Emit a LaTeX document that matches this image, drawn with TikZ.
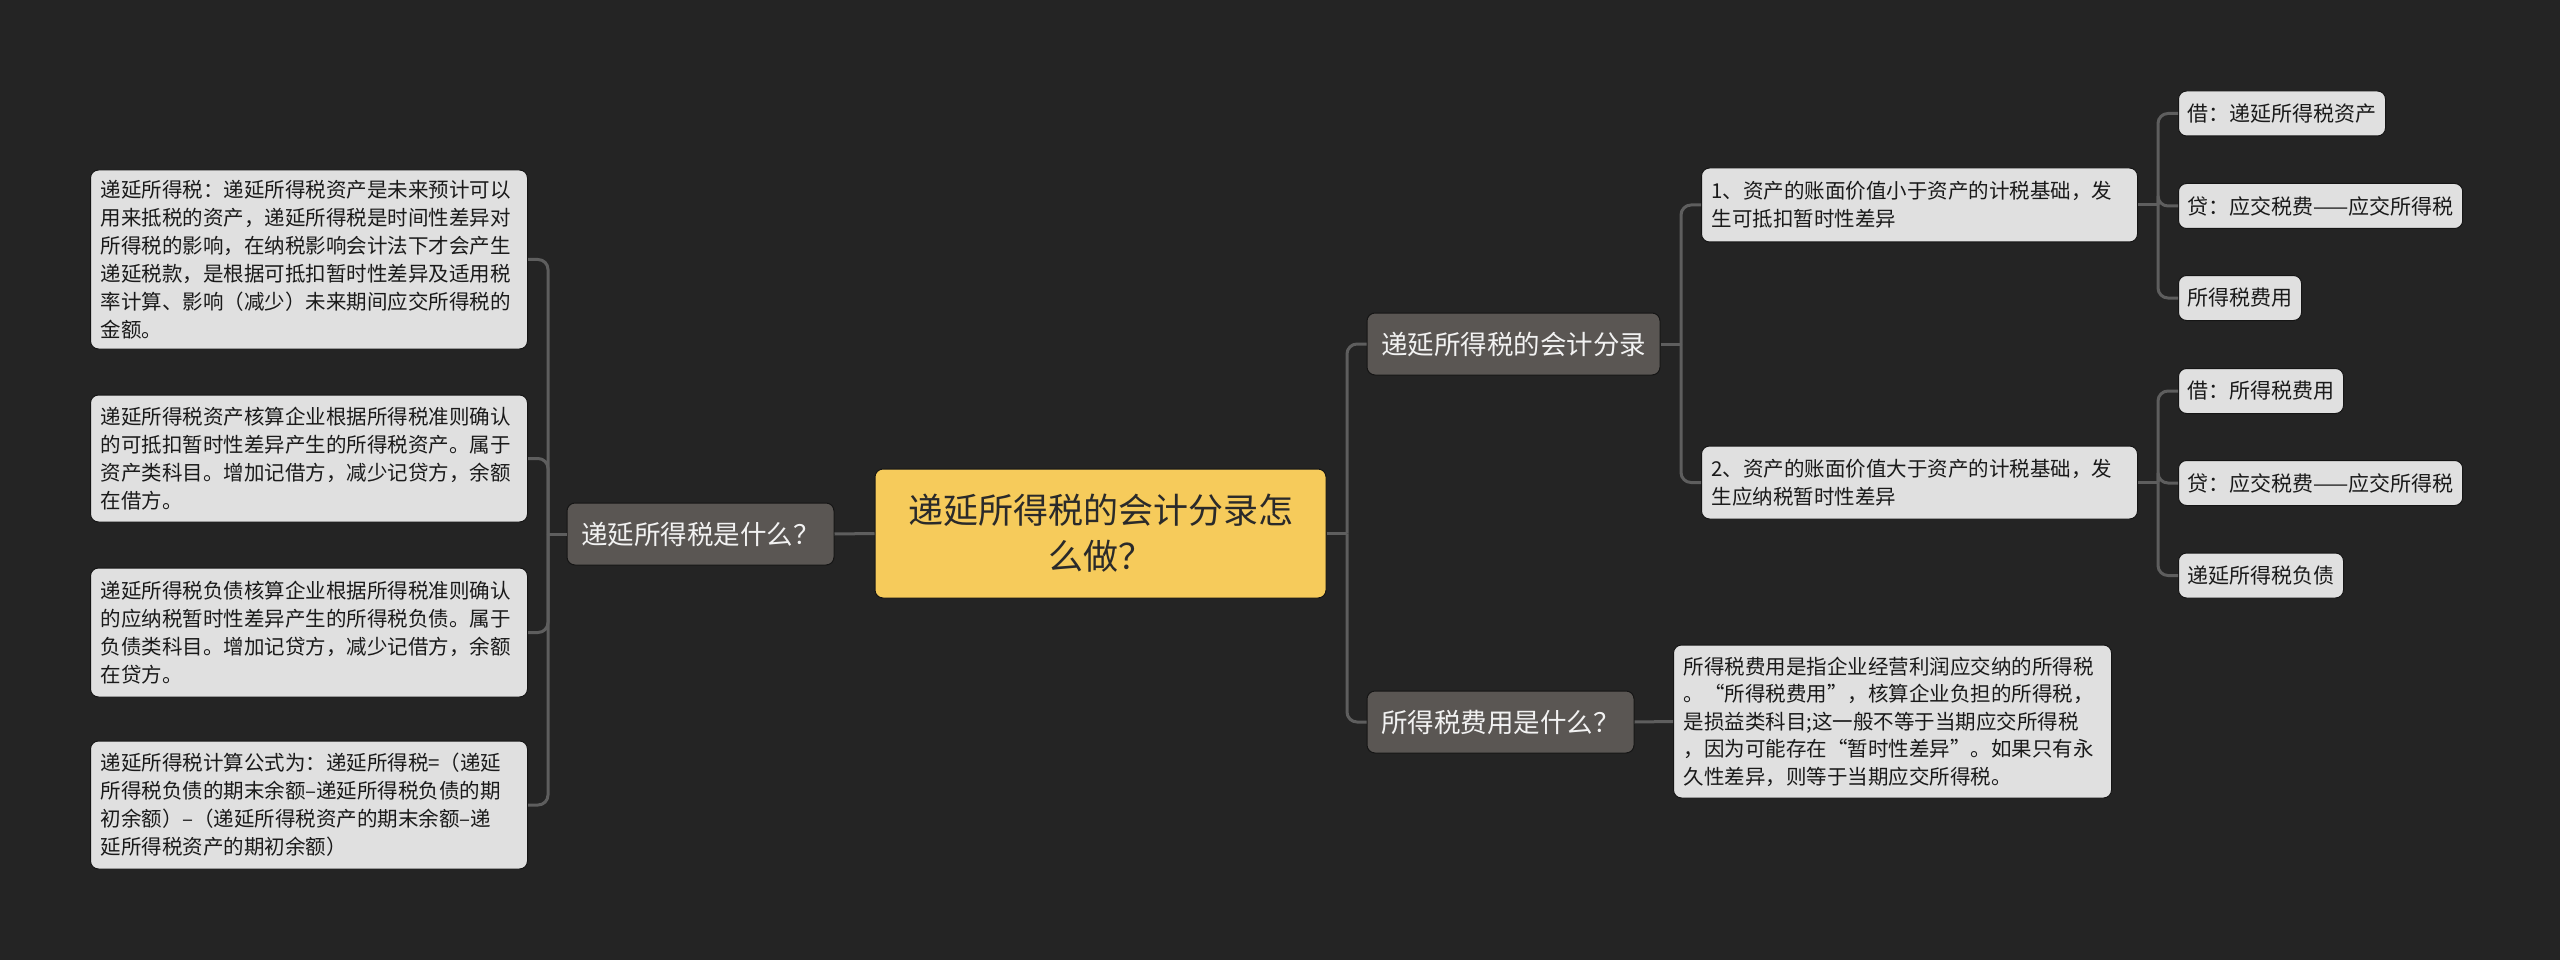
\documentclass[tikz,border=0pt]{standalone}
\usepackage{fontspec}
\setmainfont{Noto Sans CJK SC}
\definecolor{bgc}{HTML}{242424}
\definecolor{rootc}{HTML}{F6CB5B}
\definecolor{roottext}{HTML}{2A2A2A}
\definecolor{topicc}{HTML}{5A5653}
\definecolor{topictext}{HTML}{F2F2F2}
\definecolor{leafc}{HTML}{E0E0E0}
\definecolor{leaftext}{HTML}{1A1A1A}
\definecolor{linec}{HTML}{5E5E5E}
\definecolor{edgec}{HTML}{151515}
\tikzset{
  boxbase/.style={rounded corners=8pt, draw=edgec, line width=1pt},
  rootbox/.style={boxbase, fill=rootc, text=roottext, font=\fontsize{35}{46}\selectfont, align=center, minimum width=451pt, minimum height=129pt},
  topicbox/.style={boxbase, fill=topicc, text=topictext, font=\fontsize{26.5}{32}\selectfont, minimum height=62pt, inner xsep=0pt},
  leafbox/.style={boxbase, fill=leafc, text=leaftext, font=\fontsize{20.5}{28}\selectfont, align=left, inner xsep=10pt},
  smallleaf/.style={boxbase, fill=leafc, text=leaftext, font=\fontsize{21}{28}\selectfont, inner xsep=9pt, minimum height=45pt},
  conn/.style={draw=linec, line width=3pt, rounded corners=10pt},
}
\begin{document}
\begin{tikzpicture}[x=1pt,y=-1pt]
\fill[bgc] (0,0) rectangle (2560,960);
\useasboundingbox (0,0) rectangle (2560,960);

% root
\node[rootbox] (root) at (1100.5,533.5) {递延所得税的会计分录怎\\么做？};

% level 1
\node[topicbox, minimum width=267pt] (what) at (700.5,534) {递延所得税是什么？};
\node[topicbox, minimum width=293pt] (acct) at (1513.5,344) {递延所得税的会计分录};
\node[topicbox, minimum width=267pt] (exp) at (1500.5,722) {所得税费用是什么？};

% left leaves
\node[leafbox, anchor=west, text width=417pt, minimum height=179pt] (l1) at (90,259.5)
{递延所得税：递延所得税资产是未来预计可以\\用来抵税的资产，递延所得税是时间性差异对\\所得税的影响，在纳税影响会计法下才会产生\\递延税款，是根据可抵扣暂时性差异及适用税\\率计算、影响（减少）未来期间应交所得税的\\金额。};
\node[leafbox, anchor=west, text width=417pt, minimum height=127pt] (l2) at (90,458.5)
{递延所得税资产核算企业根据所得税准则确认\\的可抵扣暂时性差异产生的所得税资产。属于\\资产类科目。增加记借方，减少记贷方，余额\\在借方。};
\node[leafbox, anchor=west, text width=417pt, minimum height=129pt] (l3) at (90,632.5)
{递延所得税负债核算企业根据所得税准则确认\\的应纳税暂时性差异产生的所得税负债。属于\\负债类科目。增加记贷方，减少记借方，余额\\在贷方。};
\node[leafbox, anchor=west, text width=417pt, minimum height=128pt] (l4) at (90,805)
{递延所得税计算公式为：递延所得税=（递延\\所得税负债的期末余额–递延所得税负债的期\\初余额）–（递延所得税资产的期末余额–递\\延所得税资产的期初余额）};

% right level 2
\node[leafbox, anchor=west, text width=416pt, minimum height=74pt] (r1) at (1701,205)
{1、资产的账面价值小于资产的计税基础，发\\生可抵扣暂时性差异};
\node[leafbox, anchor=west, text width=416pt, minimum height=73pt] (r2) at (1701,482.5)
{2、资产的账面价值大于资产的计税基础，发\\生应纳税暂时性差异};
\node[leafbox, anchor=west, text width=418pt, minimum height=153pt, font=\fontsize{20.5}{27.5}\selectfont] (desc) at (1673,721.5)
{所得税费用是指企业经营利润应交纳的所得税\\。“所得税费用”，核算企业负担的所得税，\\是损益类科目;这一般不等于当期应交所得税\\，因为可能存在“暂时性差异”。如果只有永\\久性差异，则等于当期应交所得税。};

% right level 3
\node[smallleaf, anchor=west] (b1) at (2178,113.5) {借：递延所得税资产};
\node[smallleaf, anchor=west] (c1) at (2178,206) {贷：应交税费——应交所得税};
\node[smallleaf, anchor=west] (e1) at (2178,298) {所得税费用};
\node[smallleaf, anchor=west] (b2) at (2178,391) {借：所得税费用};
\node[smallleaf, anchor=west] (c2) at (2178,483) {贷：应交税费——应交所得税};
\node[smallleaf, anchor=west] (d2) at (2178,575.5) {递延所得税负债};

% junctions
\coordinate (jR) at (1347,533.5);
\coordinate (jL) at (548,534);
\coordinate (jA) at (1681,344);
\coordinate (jB) at (2158,205);
\coordinate (jC) at (2158,482.5);

% connectors
\draw[conn] (root.east) -- (jR);
\draw[conn] (jR) |- (acct.west);
\draw[conn] (jR) |- (exp.west);
\draw[conn] (root.west) -- (what.east);
\draw[conn] (what.west) -- (jL);
\draw[conn] (jL) |- (l1.east);
\draw[conn] (jL) |- (l2.east);
\draw[conn] (jL) |- (l3.east);
\draw[conn] (jL) |- (l4.east);
\draw[conn] (acct.east) -- (jA);
\draw[conn] (jA) |- (r1.west);
\draw[conn] (jA) |- (r2.west);
\draw[conn] (exp.east) -- (desc.west);
\draw[conn] (r1.east) -- (jB);
\draw[conn] (jB) |- (b1.west);
\draw[conn] (jB) |- (c1.west);
\draw[conn] (jB) |- (e1.west);
\draw[conn] (r2.east) -- (jC);
\draw[conn] (jC) |- (b2.west);
\draw[conn] (jC) |- (c2.west);
\draw[conn] (jC) |- (d2.west);
\end{tikzpicture}
\end{document}
